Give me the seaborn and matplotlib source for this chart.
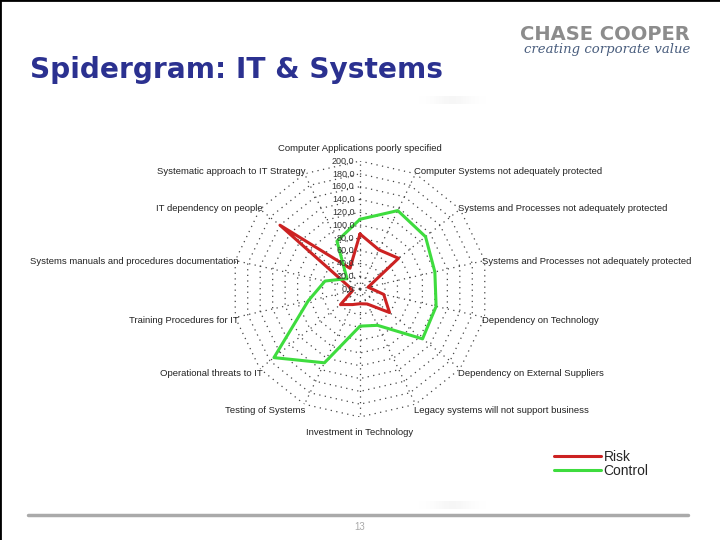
import numpy as np
import pandas as pd
import matplotlib
matplotlib.use('Agg')
import matplotlib.pyplot as plt
import seaborn as sns

# categories, clockwise from the top
categorias = [
    'Computer Applications poorly specified',
    'Computer Systems not adequately protected',
    'Systems and Processes not adequately protected',
    'Systems and Processes not adequately protected',
    'Dependency on Technology',
    'Dependency on External Suppliers',
    'Legacy systems will not support business',
    'Investment in Technology',
    'Testing of Systems',
    'Operational threats to IT',
    'Training Procedures for IT',
    'Systems manuals and procedures documentation',
    'IT dependency on people',
    'Systematic approach to IT Strategy',
]
risk = [86, 68, 77, 13, 38, 59, 26, 23, 27, 39, 12, 18, 160, 36]
control = [109, 136, 131, 120, 122, 125, 63, 58, 128, 172, 83, 56, 26, 83]
anel = [0, 20, 40, 60, 80, 100, 120, 140, 160, 180, 200]

cor_risk = '#CC2222'
cor_control = '#3EDC3E'

sns.set_theme(style='white')
plt.rcParams['font.family'] = ['Liberation Sans', 'DejaVu Sans']

n = len(categorias)
theta = np.linspace(0, 2 * np.pi, n, endpoint=False)

# closed polygons in long format
th_fech = np.append(theta, 2 * np.pi)
df = pd.DataFrame({
    'theta': np.concatenate([th_fech, th_fech]),
    'valor': risk + risk[:1] + control + control[:1],
    'serie': ['Risk'] * (n + 1) + ['Control'] * (n + 1),
})

fig = plt.figure(figsize=(7.2, 5.4), dpi=100)
ax = fig.add_axes([0.3222, 0.2278, 0.3556, 0.474], projection='polar')
ax.set_theta_offset(np.pi / 2)
ax.set_theta_direction(-1)
ax.set_ylim(0, 200)
ax.grid(False)
ax.spines['polar'].set_visible(False)
ax.set_xticks([])
ax.set_yticks([])
ax.patch.set_alpha(0)

# polygonal grid rings and spokes
for r in anel[1:]:
    ax.plot(th_fech, [r] * (n + 1), color='#444444', lw=0.9, ls=(0, (1, 3.5)), zorder=1)
for t in theta:
    ax.plot([t, t], [0, 200], color='#444444', lw=0.9, ls=(0, (1, 3.5)), zorder=1)

sns.lineplot(data=df, x='theta', y='valor', hue='serie', sort=False, estimator=None,
             palette={'Risk': cor_risk, 'Control': cor_control}, lw=2.2, ax=ax, zorder=3)
ax.set_xlabel('')
ax.set_ylabel('')
ax.set_ylim(0, 200)

# ring values along the top spoke
for r in anel:
    ax.annotate(f'{r:.1f}'.replace('.', ','), xy=(0, r), xytext=(-4, 0),
                textcoords='offset points', ha='right', va='center',
                fontsize=6.5, color='#333333')

# category labels
for t, nome in zip(theta, categorias):
    s, c = np.sin(t), np.cos(t)
    if abs(s) < 1e-6:
        dy = 0 if c > 0 else -2
        ax.annotate(nome, xy=(t, 220), xytext=(0, dy), textcoords='offset points',
                    ha='center', va='center', fontsize=6.8, color='#222222',
                    annotation_clip=False)
    else:
        dy = -(2 - 7.5 * c) * 0.72
        ax.annotate(nome, xy=(t, 195), xytext=(0, dy), textcoords='offset points',
                    ha='left' if s > 0 else 'right', va='center', fontsize=6.8,
                    color='#222222', annotation_clip=False)

leg = ax.get_legend()
h, l = ax.get_legend_handles_labels()
leg.remove()
fig.legend(h, l, loc='upper left', bbox_to_anchor=(548 / 720, 1 - 444 / 540),
           frameon=False, fontsize=10, handlelength=3.4, handletextpad=0.2,
           labelspacing=0.05, borderaxespad=0)

# faint shadows of the slide template
grad = np.linspace(-1, 1, 200)
sombra = np.exp(-(grad * 2.2) ** 2)[None, :]
for y0 in (100, 505):
    sax = fig.add_axes([410 / 720, 1 - (y0 + 4) / 540, 85 / 720, 8 / 540])
    sax.imshow(sombra, cmap='Greys', vmin=0, vmax=14, aspect='auto')
    sax.axis('off')

# slide decoration
fig.text(30 / 720, 1 - 70 / 540, 'Spidergram: IT & Systems', fontsize=20.2, fontweight='bold',
         color='#2B3190', family='DejaVu Sans', va='center')
fig.text(690 / 720, 1 - 35 / 540, 'CHASE COOPER', fontsize=14, fontweight='bold',
         color='#8C8C8C', family='DejaVu Sans', ha='right', va='center')
fig.text(690 / 720, 1 - 50 / 540, 'creating corporate value', fontsize=9.5, style='italic',
         color='#4A5E7E', family='DejaVu Serif', ha='right', va='center')
fig.add_artist(plt.Line2D([28 / 720, 688 / 720], [1 - 515 / 540] * 2, color='#AAAAAA', lw=2.5))
fig.text(360 / 720, 1 - 527 / 540, '13', fontsize=7, color='#AAAAAA', ha='center', va='center')
fig.add_artist(plt.Line2D([0, 0, 1], [0, 1, 1], color='black', lw=2, transform=fig.transFigure))

fig.savefig('out.png', dpi=100)
